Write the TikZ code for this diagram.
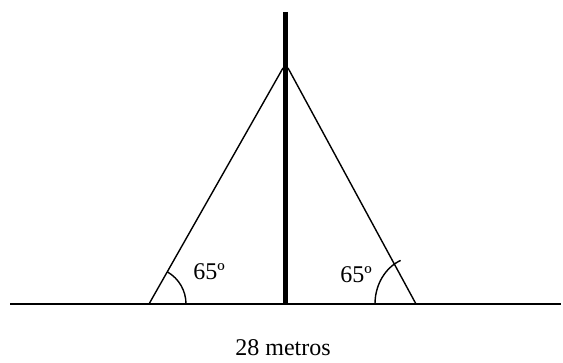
\documentclass[tikz,border=0pt]{standalone}
\usepackage{fontspec}
\setmainfont{Liberation Serif}
\usetikzlibrary{calc}

\begin{document}
\begin{tikzpicture}[x=1pt, y=1pt, lbl/.style={inner sep=0pt, font=\fontsize{24}{28}\selectfont}]
		\useasboundingbox (0,0) rectangle (563,362);
		\coordinate (g1) at (10,58);
		\coordinate (g2) at (561,58);
		\coordinate (top) at (285.5,350);
		\coordinate (bot) at (285.5,58);
		\coordinate (lb) at (149,58);
		\coordinate (rb) at (416,58);
		\coordinate (la) at (283,294);
		\coordinate (ra) at (288,294);
		\node[lbl] at (209,90) (al) {65º};
		\node[lbl] at (356,87) (ar) {65º};
		\node[lbl, anchor=base] at (283,6) (len) {28 metros};
		\draw[line width=1.8pt] (g1) -- (g2);
		\draw[line width=5pt] (top) -- (bot);
		\draw[line width=1.4pt] (lb) -- (la);
		\draw[line width=1.4pt] (rb) -- (ra);
		\draw[line width=1.4pt] ($(lb)+(37,0)$) arc[start angle=0, end angle=60, radius=37];
		\draw[line width=1.4pt] ($(rb)+(-41,0)$) arc[start angle=180, end angle=112, x radius=41, y radius=47];
		\end{tikzpicture}
\end{document}
